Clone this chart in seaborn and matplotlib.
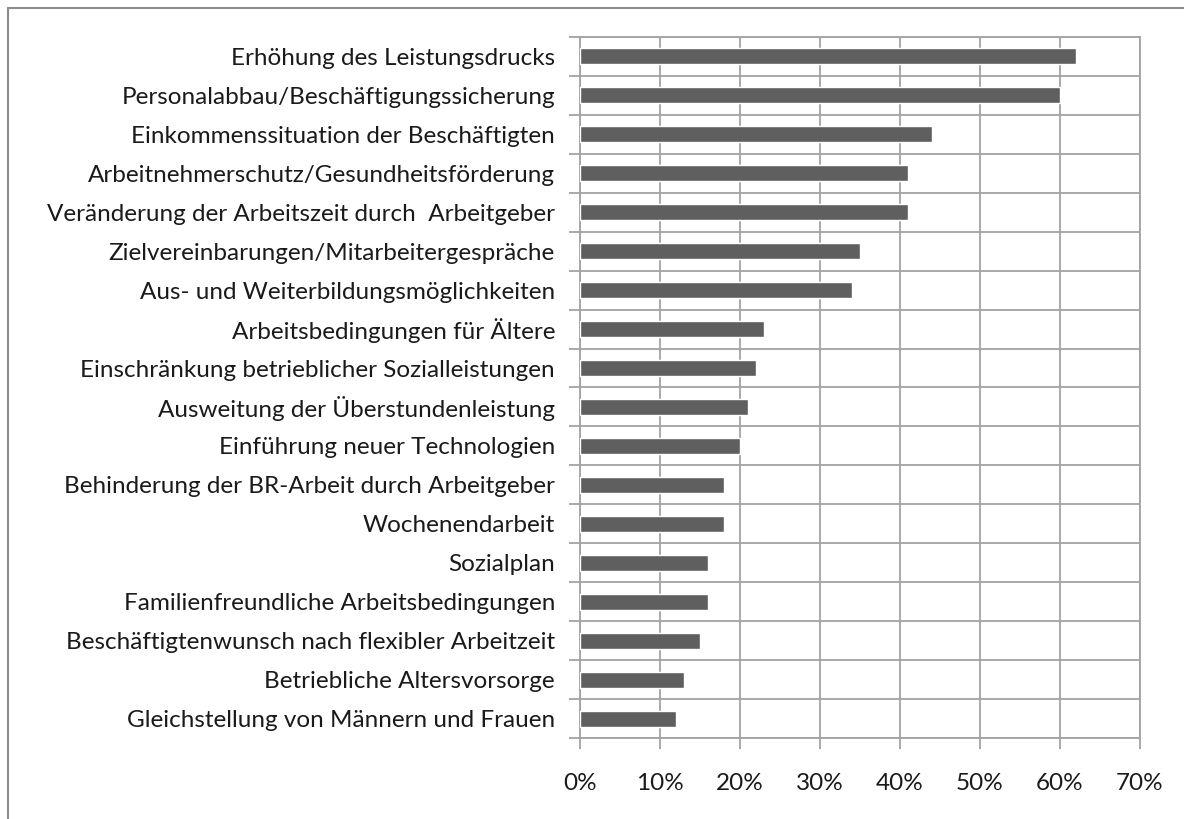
import pandas as pd
import seaborn as sns
import matplotlib.pyplot as plt
from matplotlib.patches import Rectangle
from matplotlib.ticker import FixedLocator, PercentFormatter

categories = [
    "Erhöhung des Leistungsdrucks",
    "Personalabbau/Beschäftigungssicherung",
    "Einkommenssituation der Beschäftigten",
    "Arbeitnehmerschutz/Gesundheitsförderung",
    "Veränderung der Arbeitszeit durch  Arbeitgeber",
    "Zielvereinbarungen/Mitarbeitergespräche",
    "Aus- und Weiterbildungsmöglichkeiten",
    "Arbeitsbedingungen für Ältere",
    "Einschränkung betrieblicher Sozialleistungen",
    "Ausweitung der Überstundenleistung",
    "Einführung neuer Technologien",
    "Behinderung der BR-Arbeit durch Arbeitgeber",
    "Wochenendarbeit",
    "Sozialplan",
    "Familienfreundliche Arbeitsbedingungen",
    "Beschäftigtenwunsch nach flexibler Arbeitzeit",
    "Betriebliche Altersvorsorge",
    "Gleichstellung von Männern und Frauen",
]
values = [62, 60, 44, 41, 41, 35, 34, 23, 22, 21, 20, 18, 18, 16, 16, 15, 13, 12]
x_ticks = [0, 10, 20, 30, 40, 50, 60, 70]

df = pd.DataFrame({"thema": categories, "anteil": values})

sns.set_style("white")
plt.rcParams["font.family"] = ["Lato", "DejaVu Sans"]

grid_col = "#a3a3a3"
fig = plt.figure(figsize=(11.84, 8.19), dpi=100)
ax = fig.add_axes([580 / 1184, 1 - 738.3 / 819, 560 / 1184, 701.6 / 819])

sns.barplot(data=df, x="anteil", y="thema", orient="h", color="#5f5f5f",
            width=0.4, saturation=1, ax=ax, zorder=3)

ax.set_xlim(0, 70)
ax.set_ylim(len(categories) - 0.5, -0.5)
ax.xaxis.set_major_locator(FixedLocator(x_ticks))
ax.xaxis.set_major_formatter(PercentFormatter(decimals=0))
ax.yaxis.set_minor_locator(FixedLocator([i - 0.5 for i in range(len(categories) + 1)]))

ax.grid(axis="x", which="major", color=grid_col, linewidth=1.3, zorder=0)
ax.grid(axis="y", which="minor", color=grid_col, linewidth=1.3, zorder=0)
ax.set_axisbelow(True)

ax.tick_params(axis="y", which="major", length=0, pad=18, labelsize=17.5, labelcolor="#1a1a1a")
ax.tick_params(axis="y", which="minor", length=8, width=1.3, color=grid_col, direction="out", left=True)
ax.tick_params(axis="x", which="major", length=8, width=1.3, color=grid_col, direction="out",
               bottom=True, pad=17, labelsize=17.5, labelcolor="#1a1a1a")

for s in ax.spines.values():
    s.set_color(grid_col)
    s.set_linewidth(1.3)

ax.set_xlabel("")
ax.set_ylabel("")

fig.patches.append(Rectangle((8 / 1184, -0.1), 1.2, 1 - 8 / 819 + 0.1, transform=fig.transFigure,
                             fill=False, edgecolor="#8c8c8c", linewidth=1.5))

fig.savefig("out.png", dpi=100)
